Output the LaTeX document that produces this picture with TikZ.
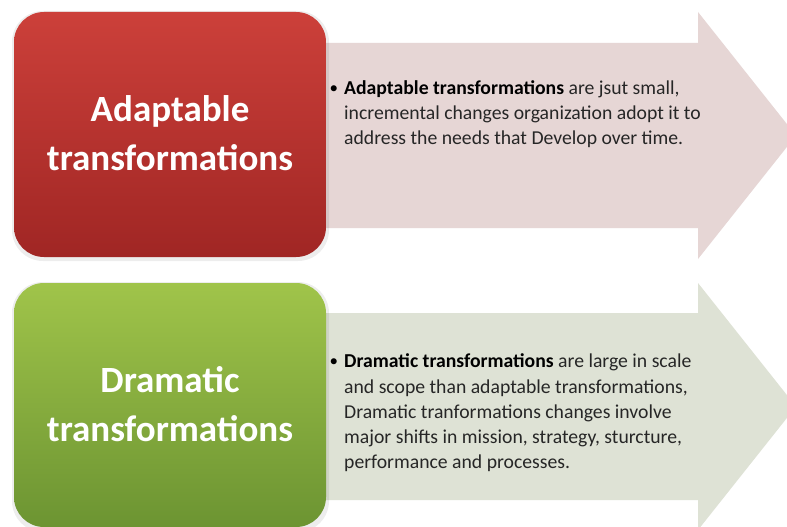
\documentclass[tikz,border=0pt]{standalone}
\usepackage{fontspec}
\setmainfont{Carlito}
\definecolor{redtop}{RGB}{204,64,58}
\definecolor{redbot}{RGB}{160,38,36}
\definecolor{greentop}{RGB}{160,196,74}
\definecolor{greenbot}{RGB}{108,148,50}
\definecolor{pinkarrow}{RGB}{230,214,213}
\definecolor{greyarrow}{RGB}{222,226,213}
\definecolor{bodytext}{RGB}{38,38,38}
\tikzset{
  titlebox/.style={rounded corners=30pt, draw=none},
  boxshadow/.style={fill=black, opacity=0.07, rounded corners=31pt},
  titletext/.style={anchor=base, text=white, font=\fontsize{37}{45}\bfseries\selectfont, inner sep=0pt},
  bodyline/.style={anchor=base west, text=bodytext, font=\fontsize{19.7}{25}\selectfont, inner sep=0pt},
  bulletmark/.style={anchor=base west, text=black, font=\fontsize{17}{25}\selectfont, inner sep=0pt}
}
\begin{document}
\begin{tikzpicture}[x=1pt,y=-1pt]
\useasboundingbox (0,0) rectangle (787,527);
\fill[white] (0,0) rectangle (787,527);
\clip (0,0) rectangle (787,527);
% arrows
\fill[pinkarrow] (300,43) -- (698,43) -- (698,12) -- (796,135.5) -- (698,259) -- (698,228) -- (300,228) -- cycle;
\fill[greyarrow] (300,313) -- (698,313) -- (698,283) -- (796,406.5) -- (698,530) -- (698,500) -- (300,500) -- cycle;
% boxes
\fill[boxshadow] (12,11) rectangle (329,261);
\shade[titlebox, top color=redtop, bottom color=redbot] (14,12) rectangle (326,257);
\fill[boxshadow] (12,282) rectangle (329,532);
\shade[titlebox, top color=greentop, bottom color=greenbot] (14,283) rectangle (326,527);
% titles
\node[titletext] (t1a) at (170,121) {Adaptable};
\node[titletext] (t1b) at (170,170) {transformations};
\node[titletext] (t2a) at (170,392) {Dramatic};
\node[titletext] (t2b) at (170,441) {transformations};
% body text top
\node[bulletmark] (b1) at (329.5,93) {•};
\node[bodyline] (a1) at (344,94) {\textbf{\color{black}Adaptable transformations} are jsut small,};
\node[bodyline] (a2) at (344,119) {incremental changes organization adopt it to};
\node[bodyline] (a3) at (344,144) {address the needs that Develop over time.};
% body text bottom
\node[bulletmark] (b2) at (329.5,366) {•};
\node[bodyline] (d1) at (344,367) {\textbf{\color{black}Dramatic transformations} are large in scale};
\node[bodyline] (d2) at (344,393) {and scope than adaptable transformations,};
\node[bodyline] (d3) at (344,418) {Dramatic tranformations changes involve};
\node[bodyline] (d4) at (344,443) {major shifts in mission, strategy, sturcture,};
\node[bodyline] (d5) at (344,468) {performance and processes.};
\end{tikzpicture}
\end{document}
